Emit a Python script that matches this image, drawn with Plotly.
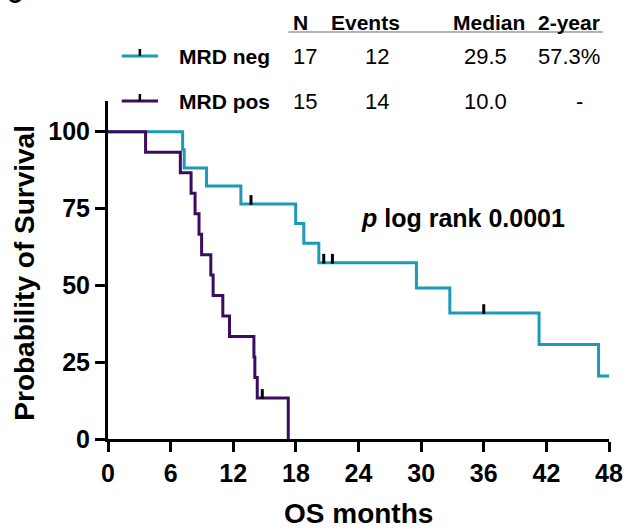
import numpy as np
import plotly.graph_objects as go

# Overall survival (months); event = 1 death, 0 censored
neg_times = [7.15, 7.3, 9.44, 12.73, 13.7, 17.98, 18.76, 20.2, 20.67, 21.5,
             29.55, 32.75, 36.0, 41.3, 47.0, 50.5, 55.0]
neg_events = [1, 1, 1, 1, 0, 1, 1, 1, 0, 0, 1, 1, 0, 1, 1, 1, 0]

pos_times = [3.6, 6.93, 7.96, 8.34, 8.72, 8.97, 9.85, 10.07, 11.0, 11.64,
             13.98, 14.07, 14.3, 14.78, 17.27]
pos_events = [1, 1, 1, 1, 1, 1, 1, 1, 1, 1, 1, 1, 1, 0, 1]

groups = ["MRD neg", "MRD pos"]
n_at_start = ["17", "15"]
n_events = ["12", "14"]
median_os = ["29.5", "10.0"]
two_year = ["57.3%", "-"]
header = ["N", "Events", "Median", "2-year"]
panel_label = "c"

x_ticks = [0, 6, 12, 18, 24, 30, 36, 42, 48]
y_ticks = [0, 25, 50, 75, 100]

TEAL = "#1c9bb6"
PURPLE = "#3c0c5e"
FONT = "Liberation Sans"


def kaplan_meier(times, events):
    """Return step coordinates and censor positions of a KM curve (in %)."""
    order = np.argsort(times, kind="stable")
    t = np.asarray(times, float)[order]
    e = np.asarray(events, int)[order]
    at_risk = len(t)
    surv = 100.0
    xs, ys = [0.0], [100.0]
    cx, cy = [], []
    for ti in np.unique(t):
        mask = t == ti
        d = int(e[mask].sum())
        c = int(mask.sum()) - d
        if d:
            surv *= (at_risk - d) / at_risk
            xs.append(float(ti))
            ys.append(surv)
        if c:
            cx.append(float(ti))
            cy.append(surv)
        at_risk -= d + c
    xs.append(float(t.max()))
    ys.append(surv)
    return xs, ys, cx, cy


fig = go.Figure()

# censor tick offset (data units) so the tick sits on top of the line
tick_lift = 1.3

for times, events, color in [(neg_times, neg_events, TEAL),
                             (pos_times, pos_events, PURPLE)]:
    xs, ys, cx, cy = kaplan_meier(times, events)
    fig.add_trace(go.Scatter(
        x=xs, y=ys, mode="lines", line=dict(color=color, width=3, shape="hv"),
        showlegend=False, hoverinfo="skip", cliponaxis=True))
    fig.add_trace(go.Scatter(
        x=cx, y=[v + tick_lift for v in cy], mode="markers",
        marker=dict(symbol="line-ns", size=7,
                    line=dict(color="black", width=3)),
        showlegend=False, hoverinfo="skip", cliponaxis=False))

# plot-area geometry in pixels, used to place the table above the plot
W, H = 635, 530
L, R, T, B = 108, 16, 101, 91


def px(x):
    return (x - L) / (W - L - R)


def py(y):
    return (H - B - y) / (H - T - B)


annotations = []
shapes = []

# panel letter, mostly above the top edge of the figure
annotations.append(dict(
    x=px(3), y=py(11), xref="paper", yref="paper",
    text=f"<b>{panel_label}</b>", showarrow=False,
    xanchor="left", yanchor="bottom",
    font=dict(family=FONT, size=28, color="black")))

# table header: (text, x, anchor)
header_pos = [(304, "center"), (371, "center"), (535, "right"), (612, "right")]
for label, (xc, anchor) in zip(header, header_pos):
    annotations.append(dict(
        x=px(xc), y=py(22), xref="paper", yref="paper", text=f"<b>{label}</b>",
        showarrow=False, xanchor=anchor, yanchor="middle",
        font=dict(family=FONT, size=21, color="black")))
shapes.append(dict(type="line", xref="paper", yref="paper",
                   x0=px(292), x1=px(613), y0=py(32), y1=py(32),
                   line=dict(color="#9a9a9a", width=1.5)))

# table rows with legend samples
for i, (g, color) in enumerate(zip(groups, [TEAL, PURPLE])):
    yrow = 56 + 45 * i
    shapes.append(dict(type="line", xref="paper", yref="paper",
                       x0=px(122), x1=px(159), y0=py(yrow), y1=py(yrow),
                       line=dict(color=color, width=3)))
    shapes.append(dict(type="line", xref="paper", yref="paper",
                       x0=px(140.5), x1=px(140.5), y0=py(yrow), y1=py(yrow - 7),
                       line=dict(color="black", width=2.5)))
    annotations.append(dict(
        x=px(178), y=py(yrow), xref="paper", yref="paper", text=f"<b>{g}</b>",
        showarrow=False, xanchor="left", yanchor="middle",
        font=dict(family=FONT, size=21, color="black")))
    cells = [(n_at_start[i], 295, "left"), (n_events[i], 368, "left"),
             (median_os[i], 517, "right"), (two_year[i], 612, "right")]
    for txt, xc, anchor in cells:
        if txt == "-":
            xc, anchor = 589, "center"
        annotations.append(dict(
            x=px(xc), y=py(yrow), xref="paper", yref="paper", text=txt,
            showarrow=False, xanchor=anchor, yanchor="middle",
            font=dict(family=FONT, size=22, color="black")))

# statistical annotation
annotations.append(dict(
    x=px(364), y=py(218), xref="paper", yref="paper",
    text="<b><i>p</i> log rank 0.0001</b>", showarrow=False,
    xanchor="left", yanchor="middle",
    font=dict(family=FONT, size=25, color="black")))

# axis titles
annotations.append(dict(
    x=px(363), y=py(513), xref="paper", yref="paper", text="<b>OS months</b>",
    showarrow=False, xanchor="center", yanchor="middle",
    font=dict(family=FONT, size=28, color="black")))
annotations.append(dict(
    x=px(22), y=py(273), xref="paper", yref="paper",
    text="<b>Probability of Survival</b>", textangle=-90,
    showarrow=False, xanchor="center", yanchor="middle",
    font=dict(family=FONT, size=28, color="black")))

fig.update_layout(
    width=W, height=H,
    margin=dict(l=L, r=R, t=T, b=B),
    paper_bgcolor="white", plot_bgcolor="white",
    shapes=shapes, annotations=annotations,
    showlegend=False,
)
fig.update_xaxes(
    range=[0, 48], tickvals=x_ticks, ticktext=[str(v) for v in x_ticks],
    showline=True, linecolor="black", linewidth=3, mirror=False,
    ticks="outside", ticklen=10, tickwidth=3, tickcolor="black",
    showgrid=False, zeroline=False,
    tickfont=dict(family=FONT, size=25, color="black", weight="bold"),
)
fig.update_yaxes(
    range=[0, 110], tickvals=y_ticks, ticktext=[str(v) for v in y_ticks],
    showline=True, linecolor="black", linewidth=3, mirror=False,
    ticks="outside", ticklen=10, tickwidth=3, tickcolor="black",
    showgrid=False, zeroline=False,
    tickfont=dict(family=FONT, size=25, color="black", weight="bold"),
)

fig.write_html("out.html")
